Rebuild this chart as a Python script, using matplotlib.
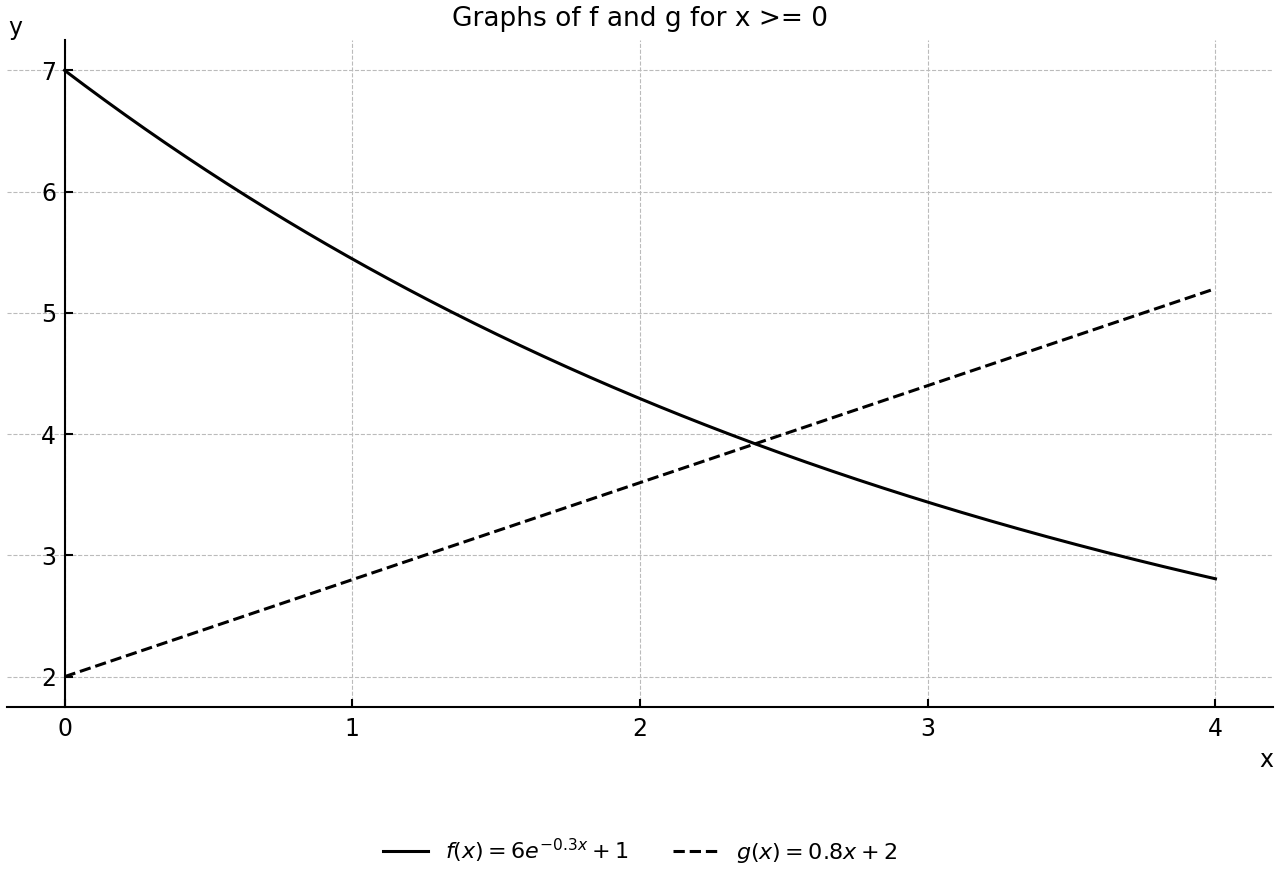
import numpy as np
import matplotlib
matplotlib.use("Agg")
import matplotlib.pyplot as plt

# Function parameters shown in the legend
f_amp, f_rate, f_offset = 6.0, -0.3, 1.0
g_slope, g_intercept = 0.8, 2.0
x_range = [0.0, 4.0]
x_ticks = [0, 1, 2, 3, 4]
y_ticks = [2, 3, 4, 5, 6, 7]

x = np.linspace(x_range[0], x_range[1], 400)
f = f_amp * np.exp(f_rate * x) + f_offset
g = g_slope * x + g_intercept

fig = plt.figure(figsize=(12.8, 8.8), dpi=100)
ax = fig.add_axes([7/1280, 1-707/880, 1266/1280, 667/880])

ax.plot(x, f, color="black", lw=2.2, label=r"$f(x) = 6e^{-0.3x} + 1$")
ax.plot(x, g, color="black", lw=2.2, ls="--", label=r"$g(x) = 0.8x + 2$")

ax.set_xlim(-0.2, 4.2)
ax.set_ylim(1.75, 7.25)
ax.set_xticks(x_ticks)
ax.set_yticks(y_ticks)
ax.tick_params(direction="in", labelsize=17, width=1.5, length=6)
ax.tick_params(axis="x", pad=7)
ax.tick_params(axis="y", pad=6)

ax.spines["left"].set_position(("data", 0))
ax.spines["top"].set_visible(False)
ax.spines["right"].set_visible(False)
ax.spines["left"].set_linewidth(1.5)
ax.spines["bottom"].set_linewidth(1.5)

ax.grid(True, ls="--", color="#bbbbbb", lw=0.8)
ax.set_axisbelow(True)

ax.text(0.995, -0.079, "x", transform=ax.transAxes, fontsize=17, ha="center", va="center")
ax.text(0.0065, 1.018, "y", transform=ax.transAxes, fontsize=17, ha="center", va="center")
fig.text(0.5, 1 - 19/880, "Graphs of f and g for x >= 0", fontsize=19, ha="center", va="center")

fig.legend(loc="center", bbox_to_anchor=(0.5, 1-851/880), ncol=2, frameon=False,
           fontsize=16, handlelength=2.0, columnspacing=2.0)

fig.savefig("out.png", dpi=100)
